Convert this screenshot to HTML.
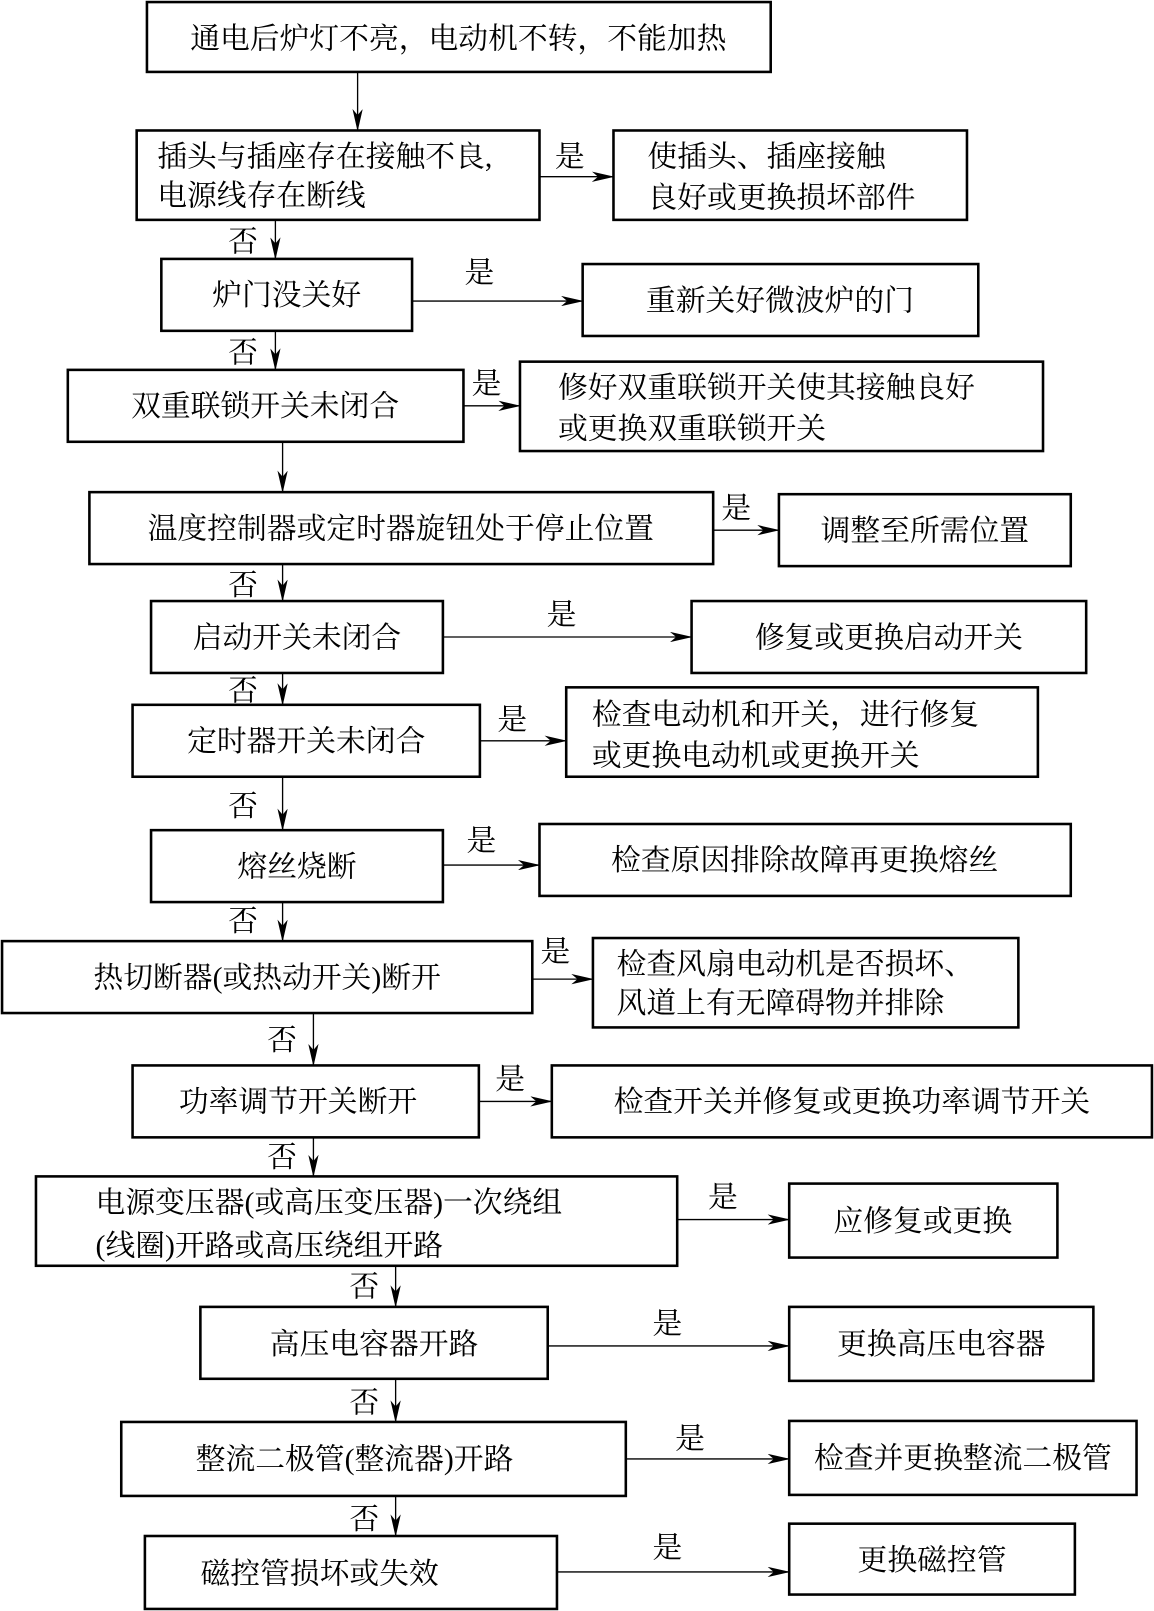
<!DOCTYPE html>
<html><head><meta charset="utf-8"><style>
html,body{margin:0;padding:0;background:#fff;}
svg{display:block;}
text{font-family:"Liberation Serif","Noto Serif CJK SC",serif;font-size:29px;fill:#000;}
rect{fill:#fff;stroke:#000;stroke-width:2.5;}
line{stroke:#000;stroke-width:1.3;}
</style></head><body>
<svg width="1154" height="1611" viewBox="0 0 1123 1568" preserveAspectRatio="none" xmlns="http://www.w3.org/2000/svg">
<defs><marker id="a" markerWidth="22" markerHeight="10" refX="21" refY="5" orient="auto" markerUnits="userSpaceOnUse"><path d="M0,0 L22,5 L0,10 L6,5 Z" fill="#000"/></marker></defs>
<g>
<rect x="143" y="2" width="607" height="68"/><text x="446" y="47" text-anchor="middle">通电后炉灯不亮，电动机不转，不能加热</text>
<line x1="348" y1="70" x2="348" y2="127" marker-end="url(#a)"/>

<rect x="133" y="127" width="392" height="87"/><text x="153" y="162">插头与插座存在接触不良,</text><text x="153" y="200">电源线存在断线</text>
<text x="540" y="162">是</text><line x1="525" y1="172" x2="597" y2="172" marker-end="url(#a)"/>
<rect x="597" y="127" width="344" height="87"/><text x="630" y="162">使插头、插座接触</text><text x="630" y="202">良好或更换损坏部件</text>
<text x="222" y="245">否</text><line x1="268" y1="214" x2="268" y2="252" marker-end="url(#a)"/>

<rect x="157" y="252" width="244" height="70"/><text x="279" y="297" text-anchor="middle">炉门没关好</text>
<text x="452" y="275">是</text><line x1="401" y1="293" x2="567" y2="293" marker-end="url(#a)"/>
<rect x="567" y="257" width="385" height="70"/><text x="759" y="302" text-anchor="middle">重新关好微波炉的门</text>
<text x="222" y="353">否</text><line x1="268" y1="322" x2="268" y2="360" marker-end="url(#a)"/>

<rect x="66" y="360" width="385" height="70"/><text x="258" y="405" text-anchor="middle">双重联锁开关未闭合</text>
<text x="459" y="383">是</text><line x1="451" y1="395" x2="506" y2="395" marker-end="url(#a)"/>
<rect x="506" y="352" width="509" height="87"/><text x="543" y="387">修好双重联锁开关使其接触良好</text><text x="543" y="427">或更换双重联锁开关</text>
<line x1="275" y1="430" x2="275" y2="479" marker-end="url(#a)"/>

<rect x="87" y="479" width="607" height="70"/><text x="390" y="524" text-anchor="middle">温度控制器或定时器旋钮处于停止位置</text>
<text x="702" y="504">是</text><line x1="694" y1="516" x2="758" y2="516" marker-end="url(#a)"/>
<rect x="758" y="481" width="284" height="70"/><text x="900" y="526" text-anchor="middle">调整至所需位置</text>
<text x="222" y="579">否</text><line x1="275" y1="549" x2="275" y2="585" marker-end="url(#a)"/>

<rect x="147" y="585" width="284" height="70"/><text x="289" y="630" text-anchor="middle">启动开关未闭合</text>
<text x="532" y="608">是</text><line x1="431" y1="620" x2="673" y2="620" marker-end="url(#a)"/>
<rect x="673" y="585" width="384" height="70"/><text x="865" y="630" text-anchor="middle">修复或更换启动开关</text>
<text x="222" y="682">否</text><line x1="275" y1="655" x2="275" y2="686" marker-end="url(#a)"/>

<rect x="129" y="686" width="338" height="70"/><text x="298" y="731" text-anchor="middle">定时器开关未闭合</text>
<text x="484" y="710">是</text><line x1="467" y1="721" x2="551" y2="721" marker-end="url(#a)"/>
<rect x="551" y="669" width="459" height="87"/><text x="576" y="705">检查电动机和开关，进行修复</text><text x="576" y="745">或更换电动机或更换开关</text>
<text x="222" y="794">否</text><line x1="275" y1="756" x2="275" y2="808" marker-end="url(#a)"/>

<rect x="147" y="808" width="284" height="70"/><text x="289" y="853" text-anchor="middle">熔丝烧断</text>
<text x="454" y="828">是</text><line x1="431" y1="842" x2="525" y2="842" marker-end="url(#a)"/>
<rect x="525" y="802" width="517" height="70"/><text x="783" y="847" text-anchor="middle">检查原因排除故障再更换熔丝</text>
<text x="222" y="906">否</text><line x1="275" y1="878" x2="275" y2="916" marker-end="url(#a)"/>

<rect x="2" y="916" width="516" height="70"/><text x="260" y="961" text-anchor="middle">热切断器(或热动开关)断开</text>
<text x="526" y="936">是</text><line x1="518" y1="953" x2="577" y2="953" marker-end="url(#a)"/>
<rect x="577" y="913" width="414" height="87"/><text x="600" y="948">检查风扇电动机是否损坏、</text><text x="600" y="986">风道上有无障碍物并排除</text>
<text x="260" y="1022">否</text><line x1="305" y1="986" x2="305" y2="1037" marker-end="url(#a)"/>

<rect x="129" y="1037" width="337" height="70"/><text x="290" y="1082" text-anchor="middle">功率调节开关断开</text>
<text x="482" y="1060">是</text><line x1="466" y1="1072" x2="537" y2="1072" marker-end="url(#a)"/>
<rect x="537" y="1037" width="584" height="70"/><text x="829" y="1082" text-anchor="middle">检查开关并修复或更换功率调节开关</text>
<text x="260" y="1136">否</text><line x1="305" y1="1107" x2="305" y2="1145" marker-end="url(#a)"/>

<rect x="35" y="1145" width="624" height="87"/><text x="93" y="1180">电源变压器(或高压变压器)一次绕组</text><text x="93" y="1222">(线圈)开路或高压绕组开路</text>
<text x="689" y="1175">是</text><line x1="659" y1="1187" x2="768" y2="1187" marker-end="url(#a)"/>
<rect x="768" y="1152" width="261" height="72"/><text x="898" y="1198" text-anchor="middle">应修复或更换</text>
<text x="340" y="1262">否</text><line x1="385" y1="1232" x2="385" y2="1272" marker-end="url(#a)"/>

<rect x="195" y="1272" width="338" height="70"/><text x="364" y="1318" text-anchor="middle">高压电容器开路</text>
<text x="635" y="1298">是</text><line x1="533" y1="1310" x2="768" y2="1310" marker-end="url(#a)"/>
<rect x="768" y="1272" width="296" height="72"/><text x="916" y="1318" text-anchor="middle">更换高压电容器</text>
<text x="340" y="1375">否</text><line x1="385" y1="1342" x2="385" y2="1384" marker-end="url(#a)"/>

<rect x="118" y="1384" width="491" height="72"/><text x="345" y="1430" text-anchor="middle">整流二极管(整流器)开路</text>
<text x="657" y="1410">是</text><line x1="609" y1="1420" x2="768" y2="1420" marker-end="url(#a)"/>
<rect x="768" y="1383" width="338" height="72"/><text x="937" y="1429" text-anchor="middle">检查并更换整流二极管</text>
<text x="340" y="1488">否</text><line x1="385" y1="1456" x2="385" y2="1495" marker-end="url(#a)"/>

<rect x="141" y="1495" width="401" height="71"/><text x="311" y="1541" text-anchor="middle">磁控管损坏或失效</text>
<text x="635" y="1516">是</text><line x1="542" y1="1530" x2="768" y2="1530" marker-end="url(#a)"/>
<rect x="768" y="1483" width="278" height="69"/><text x="907" y="1528" text-anchor="middle">更换磁控管</text>
</g>
</svg>
</body></html>
